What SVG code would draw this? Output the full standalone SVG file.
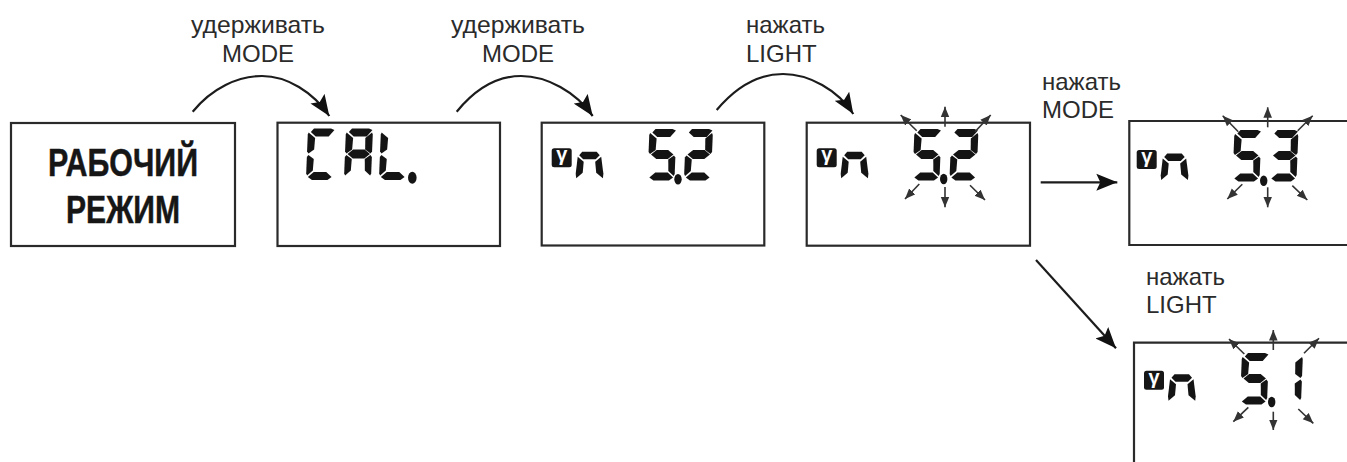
<svg xmlns="http://www.w3.org/2000/svg" width="1347" height="462" viewBox="0 0 1347 462">
<style>
.box{fill:#fff;stroke:#2a2a2a;stroke-width:2.2}
.lbl{font-family:"Liberation Sans",Arial,sans-serif;font-size:24px;fill:#2b2b2b}
.big{font-family:"Liberation Sans",Arial,sans-serif;font-weight:bold;font-size:39px;fill:#161616;stroke:#161616;stroke-width:.5}
.seg{fill:#141414}
.conn{fill:none;stroke:#1c1c1c;stroke-width:2.2}
.ray{fill:none;stroke:#333;stroke-width:1.6}
.gam{font-family:"Liberation Sans",Arial,sans-serif;font-weight:bold;font-size:20px;fill:#fff;text-anchor:middle}
</style>
<defs>
<marker id="head" markerUnits="userSpaceOnUse" markerWidth="22" markerHeight="18" viewBox="0 0 22 18" refX="21" refY="9" orient="auto">
<path d="M0,0.5 L21,9 L0,17.5 L4,9Z" fill="#111"/>
</marker>
<marker id="tiny" markerUnits="userSpaceOnUse" markerWidth="11" markerHeight="10" viewBox="0 0 11 10" refX="10.5" refY="5" orient="auto">
<path d="M0,0.7 L10.5,5 L0,9.3Z" fill="#333"/>
</marker>
<path id="a" d="M3,3.5 L6,0 H23 L26.5,1.5 L21,8 H8Z"/>
<path id="f" d="M0.8,4 L7.5,9.5 L7,21 L1.5,25 L0,23 V6Z"/>
<path id="b" d="M26.2,4 L27,6 V23 L25.5,25 L20,21 L19.7,9.5Z"/>
<path id="g" d="M2.5,25.5 L8,21 H19.5 L25,25.5 L19.5,30 H8Z"/>
<path id="e" d="M1.5,26.5 L7,30.5 L6.5,42 L1,47 L0,45 V28.5Z"/>
<path id="c" d="M25.5,26.5 L27,28.5 V45 L26,47 L20.5,42 L20,30.5Z"/>
<path id="d" d="M1.8,48.5 L7.5,43.5 H20 L25.5,48.5 L21.5,51.5 H6Z"/>
<g id="d5" class="seg" transform="translate(2,0) skewX(-2.3)"><use href="#a"/><use href="#f"/><use href="#g"/><use href="#c"/><use href="#d"/></g>
<g id="d2" class="seg" transform="translate(2,0) skewX(-2.3)"><use href="#a"/><use href="#b"/><use href="#g"/><use href="#e"/><use href="#d"/></g>
<g id="d3" class="seg" transform="translate(2,0) skewX(-2.3)"><use href="#a"/><use href="#b"/><use href="#g"/><use href="#c"/><use href="#d"/></g>
<g id="d1" class="seg" transform="translate(2,0) skewX(-2.3)"><use href="#b"/><use href="#c"/></g>
<g id="dC" class="seg" transform="translate(2,0) skewX(-2.3)"><use href="#a"/><use href="#f"/><use href="#e"/><use href="#d"/></g>
<g id="dA" class="seg" transform="translate(2,0) skewX(-2.3)"><use href="#a"/><use href="#b"/><use href="#f"/><use href="#g"/><use href="#e"/><use href="#c"/></g>
<g id="dL" class="seg" transform="translate(2,0) skewX(-2.3)"><use href="#f"/><use href="#e"/><use href="#d"/></g>
<g id="ind">
<rect x="0" y="0" width="20" height="19" rx="2.5" fill="#161616"/>
<text class="gam" x="10" y="13">γ</text>
<g class="seg" transform="translate(24,3.5)">
<path d="M3.5,3.5 L6.5,0 H21 L24,3.5 L20,7.5 H7.5Z"/>
<path d="M2,5 L8,10 L7,21 L0.5,26.5 L0,22Z"/>
<path d="M25.5,5 L27.7,22 L27.2,26.5 L20.5,21 L19.5,10Z"/>
</g>
</g>
</defs>
<rect width="1347" height="462" fill="#fff"/>

<g id="node-work">
<rect class="box" x="11" y="123" width="224" height="123"/>
<text class="big" x="48" y="176" textLength="150" lengthAdjust="spacingAndGlyphs">РАБОЧИЙ</text>
<text class="big" x="66" y="223" textLength="114" lengthAdjust="spacingAndGlyphs">РЕЖИМ</text>
</g>

<g id="node-cal">
<rect class="box" x="277.5" y="122.7" width="222.5" height="123.3"/>
<use href="#dC" x="306" y="128.5"/>
<use href="#dA" x="344" y="128.5"/>
<use href="#dL" x="379" y="128.5"/>
<ellipse class="seg" cx="412.3" cy="177.7" rx="4.3" ry="6"/>
</g>

<g id="node-n52">
<rect class="box" x="541.7" y="122.7" width="222.6" height="122.8"/>
<use href="#ind" x="551.7" y="148.3"/>
<use href="#d5" x="647.5" y="129"/>
<use href="#d2" x="684" y="129"/>
<ellipse class="seg" cx="678" cy="179.3" rx="3.7" ry="5.3"/>
</g>

<g id="node-n52-blink">
<rect class="box" x="806.7" y="122.7" width="223.3" height="123"/>
<use href="#ind" x="816.7" y="148.3"/>
<use href="#d5" x="912.5" y="129"/>
<use href="#d2" x="949.5" y="129"/>
<ellipse class="seg" cx="943.7" cy="179" rx="3.7" ry="5.3"/>
<g class="ray">
<path marker-end="url(#tiny)" d="M945,126.7V106.7"/>
<path marker-end="url(#tiny)" d="M916.7,130.7L900.7,115"/>
<path marker-end="url(#tiny)" d="M975,131.7L990.7,115"/>
<path marker-end="url(#tiny)" d="M919.3,184L905,199"/>
<path marker-end="url(#tiny)" d="M945,187V207.3"/>
<path marker-end="url(#tiny)" d="M970,185.3L985,200"/>
</g>
</g>

<g id="node-n53">
<path class="box" d="M1347,121H1129.3V245H1347"/>
<use href="#ind" x="1136.7" y="150"/>
<use href="#d5" x="1232.5" y="130"/>
<use href="#d3" x="1269.5" y="130"/>
<ellipse class="seg" cx="1263.7" cy="180.7" rx="3.7" ry="5.3"/>
<g class="ray">
<path marker-end="url(#tiny)" d="M1267.7,127.3V107.3"/>
<path marker-end="url(#tiny)" d="M1238.3,131.7L1222.7,115.7"/>
<path marker-end="url(#tiny)" d="M1297.7,130.7L1312.7,115.7"/>
<path marker-end="url(#tiny)" d="M1242.3,184.3L1227.3,199"/>
<path marker-end="url(#tiny)" d="M1267.7,187.3V207.3"/>
<path marker-end="url(#tiny)" d="M1292.3,185.7L1307.3,200"/>
</g>
</g>

<g id="node-n51">
<path class="box" d="M1347,342.7H1134V462"/>
<use href="#ind" x="1144" y="370.7"/>
<use href="#d5" x="1240" y="353"/>
<use href="#d1" x="1274" y="353"/>
<ellipse class="seg" cx="1271.7" cy="402" rx="3.7" ry="5.3"/>
<g class="ray">
<path marker-end="url(#tiny)" d="M1273.3,350V330"/>
<path marker-end="url(#tiny)" d="M1244.3,354L1229,339"/>
<path marker-end="url(#tiny)" d="M1304,353.3L1319,338.3"/>
<path marker-end="url(#tiny)" d="M1248.3,407.3L1233.3,421.7"/>
<path marker-end="url(#tiny)" d="M1273.3,411.7V430"/>
<path marker-end="url(#tiny)" d="M1298.3,409L1313.3,423.3"/>
</g>
</g>

<g id="connectors">
<path class="conn" marker-end="url(#head)" d="M192.7,111.7C212,88 238,76 262,76C287,76 313,92 329.3,116"/>
<path class="conn" marker-end="url(#head)" d="M456.7,111.7C476,88 497,76 521,76C547,76 576,92 592.7,116"/>
<path class="conn" marker-end="url(#head)" d="M716.7,110C736,87 758,74 783,74C809,74 838,90 853.3,114"/>
<path class="conn" marker-end="url(#head)" d="M1040.7,182.3H1117.3"/>
<path class="conn" marker-end="url(#head)" d="M1036,260L1116,348.3"/>
</g>

<g id="labels">
<text class="lbl" x="191" y="33" textLength="134" lengthAdjust="spacingAndGlyphs">удерживать</text>
<text class="lbl" x="222" y="61.5">MODE</text>
<text class="lbl" x="451" y="33" textLength="134" lengthAdjust="spacingAndGlyphs">удерживать</text>
<text class="lbl" x="482" y="61.5">MODE</text>
<text class="lbl" x="746" y="33">нажать</text>
<text class="lbl" x="746" y="61.5">LIGHT</text>
<text class="lbl" x="1042" y="90">нажать</text>
<text class="lbl" x="1042" y="118">MODE</text>
<text class="lbl" x="1146" y="285">нажать</text>
<text class="lbl" x="1146" y="313">LIGHT</text>
</g>
</svg>
